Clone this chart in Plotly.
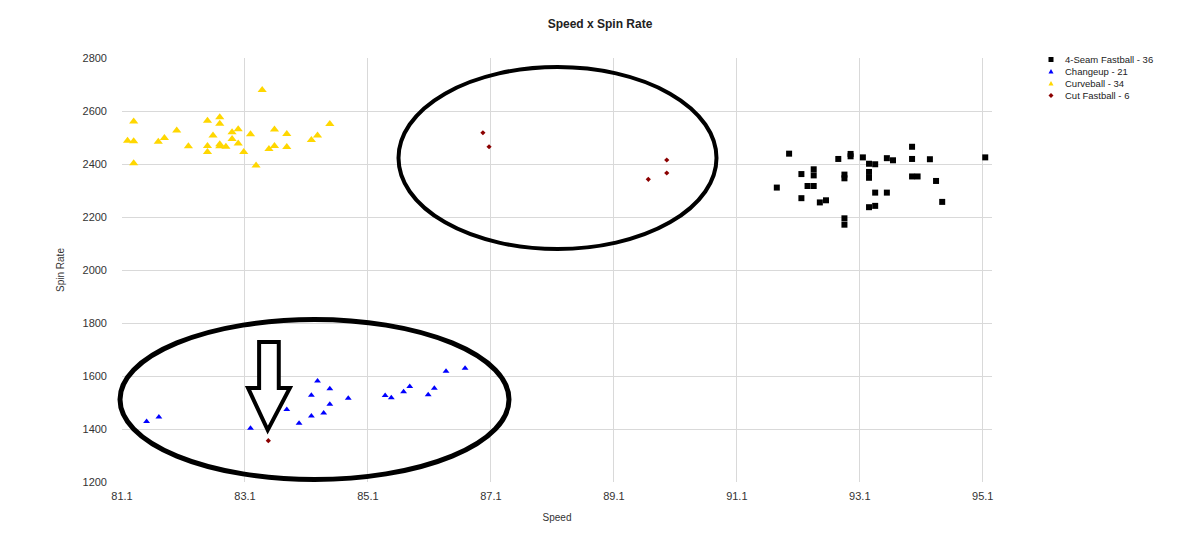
import plotly.graph_objects as go

# ---------------- data ----------------
fastball_speed = [91.95, 91.75, 92.15, 92.15, 92.25, 92.35, 92.35, 92.35, 92.45, 92.55,
                  92.75, 92.85, 92.85, 92.85, 92.85, 92.95, 92.95, 93.15, 93.25, 93.25,
                  93.25, 93.25, 93.35, 93.35, 93.35, 93.54, 93.54, 93.64, 93.95, 93.95,
                  93.95, 94.04, 94.24, 94.34, 94.44, 95.14]
fastball_spin = [2439, 2311, 2362, 2271, 2317, 2380, 2357, 2317, 2255, 2263,
                 2419, 2360, 2346, 2195, 2171, 2438, 2429, 2425, 2401, 2370,
                 2348, 2237, 2399, 2292, 2242, 2422, 2292, 2414, 2465, 2419,
                 2353, 2353, 2418, 2336, 2257, 2425]

changeup_speed = [81.50, 81.70, 83.19, 83.78, 83.98, 84.18, 84.18, 84.28, 84.38, 84.48,
                  84.48, 84.78, 85.38, 85.48, 85.68, 85.78, 86.08, 86.18, 86.37, 86.68]
changeup_spin = [1428, 1445, 1403, 1474, 1422, 1527, 1449, 1581, 1460, 1552,
                 1493, 1516, 1526, 1518, 1541, 1560, 1529, 1554, 1618, 1629]

curve_speed = [81.19, 81.29, 81.29, 81.29, 81.69, 81.79, 81.99, 82.18, 82.49, 82.49,
               82.49, 82.58, 82.69, 82.69, 82.69, 82.69, 82.79, 82.89, 82.89, 82.99,
               82.99, 83.08, 83.19, 83.28, 83.38, 83.49, 83.58, 83.58, 83.78, 83.78,
               84.18, 84.28, 84.48]
curve_spin = [2488, 2560, 2486, 2403, 2484, 2498, 2526, 2467, 2563, 2468,
              2445, 2508, 2576, 2552, 2475, 2467, 2465, 2520, 2494, 2531,
              2477, 2445, 2512, 2394, 2679, 2457, 2530, 2468, 2513, 2464,
              2491, 2508, 2551]

cutter_speed = [86.97, 87.07, 89.66, 89.96, 89.96, 83.48]
cutter_spin = [2518, 2465, 2342, 2415, 2366, 1356]

series_names = ["4-Seam Fastball - 36", "Changeup - 21", "Curveball - 34", "Cut Fastball - 6"]
series_colors = ["#000000", "#0000FF", "#FFD700", "#8B0000"]

x_ticks = [81.1, 83.1, 85.1, 87.1, 89.1, 91.1, 93.1, 95.1]
x_tick_labels = ["81.1", "83.1", "85.1", "87.1", "89.1", "91.1", "93.1", "95.1"]
y_ticks = [1200, 1400, 1600, 1800, 2000, 2200, 2400, 2600, 2800]

FONT = "Liberation Sans, Arial, sans-serif"

fig = go.Figure()
fig.add_trace(go.Scatter(x=fastball_speed, y=fastball_spin, mode="markers", name=series_names[0],
                         marker=dict(symbol="square", size=6, color=series_colors[0])))
fig.add_trace(go.Scatter(x=changeup_speed, y=changeup_spin, mode="markers", name=series_names[1],
                         marker=dict(symbol="triangle-up", size=6, color=series_colors[1])))
fig.add_trace(go.Scatter(x=curve_speed, y=curve_spin, mode="markers", name=series_names[2],
                         marker=dict(symbol="triangle-up", size=8, color=series_colors[2])))
fig.add_trace(go.Scatter(x=cutter_speed, y=cutter_spin, mode="markers", name=series_names[3],
                         marker=dict(symbol="diamond", size=4, color=series_colors[3])))

plot_l, plot_r, plot_t, plot_b = 122, 992, 58, 482


def px_x(p):
    return (p - plot_l) / (plot_r - plot_l)


def px_y(p):
    return 1 - (p - plot_t) / (plot_b - plot_t)


shapes = []
# hand-drawn annotations: two ellipses and a hollow arrow
shapes.append(dict(type="circle", xref="paper", yref="paper",
                   x0=px_x(398.5), x1=px_x(716.5), y0=px_y(249), y1=px_y(67),
                   line=dict(color="black", width=4)))
shapes.append(dict(type="circle", xref="paper", yref="paper",
                   x0=px_x(120), x1=px_x(509), y0=px_y(479.5), y1=px_y(319.5),
                   line=dict(color="black", width=5)))
shapes.append(dict(type="path", xref="x", yref="y",
                   path="M 83.33 1728 L 83.65 1728 L 83.65 1555 L 83.83 1555 L 83.47 1396 "
                        "L 83.15 1555 L 83.33 1555 Z",
                   fillcolor="white", line=dict(color="black", width=4)))

# custom compact legend (markers as pixel-sized shapes, names as text)
legend_symbols = ["square", "triangle", "triangle", "diamond"]
legend_paths = {
    "square": "M -2.5 -2.5 L 2.5 -2.5 L 2.5 2.5 L -2.5 2.5 Z",
    "triangle": "M -2.5 -2 L 2.5 -2 L 0 2.5 Z",
    "diamond": "M 0 -2.5 L 2.5 0 L 0 2.5 L -2.5 0 Z",
}
annotations = []
row_y = [59.5, 71.5, 83.5, 95.5]
for i, name in enumerate(series_names):
    py = px_y(row_y[i])
    shapes.append(dict(type="path", xref="paper", yref="paper", xsizemode="pixel", ysizemode="pixel",
                       xanchor=px_x(1051), yanchor=py, path=legend_paths[legend_symbols[i]],
                       fillcolor=series_colors[i], line=dict(width=0)))
    annotations.append(dict(xref="paper", yref="paper", x=px_x(1063), y=py, xanchor="left",
                            yanchor="middle", text=name, showarrow=False,
                            font=dict(family=FONT, size=9.5, color="#222")))

fig.update_layout(
    width=1200, height=548,
    margin=dict(l=plot_l, r=1200 - plot_r, t=plot_t, b=548 - plot_b),
    paper_bgcolor="white", plot_bgcolor="white",
    showlegend=False,
    title=dict(text="<b>Speed x Spin Rate</b>", x=0.5, xref="container", xanchor="center",
               y=1 - 24 / 548, yref="container", yanchor="middle",
               font=dict(family=FONT, size=12, color="#222")),
    shapes=shapes, annotations=annotations,
    font=dict(family=FONT, color="#333"),
)
fig.update_xaxes(range=[81.1, 95.25], tickvals=x_ticks, ticktext=x_tick_labels,
                 showgrid=True, gridcolor="#d9d9d9", gridwidth=1, zeroline=False, showline=False,
                 ticks="", ticklabelstandoff=6, tickfont=dict(family=FONT, size=11, color="#333"),
                 title=dict(text="Speed", font=dict(family=FONT, size=10, color="#333"), standoff=12))
fig.update_yaxes(range=[1200, 2800], tickvals=y_ticks,
                 showgrid=True, gridcolor="#d9d9d9", gridwidth=1, zeroline=False, showline=False,
                 ticks="", ticklabelstandoff=14, tickfont=dict(family=FONT, size=11, color="#333"),
                 title=dict(text="Spin Rate", font=dict(family=FONT, size=10, color="#333"), standoff=16))

fig.write_html("out.html")
